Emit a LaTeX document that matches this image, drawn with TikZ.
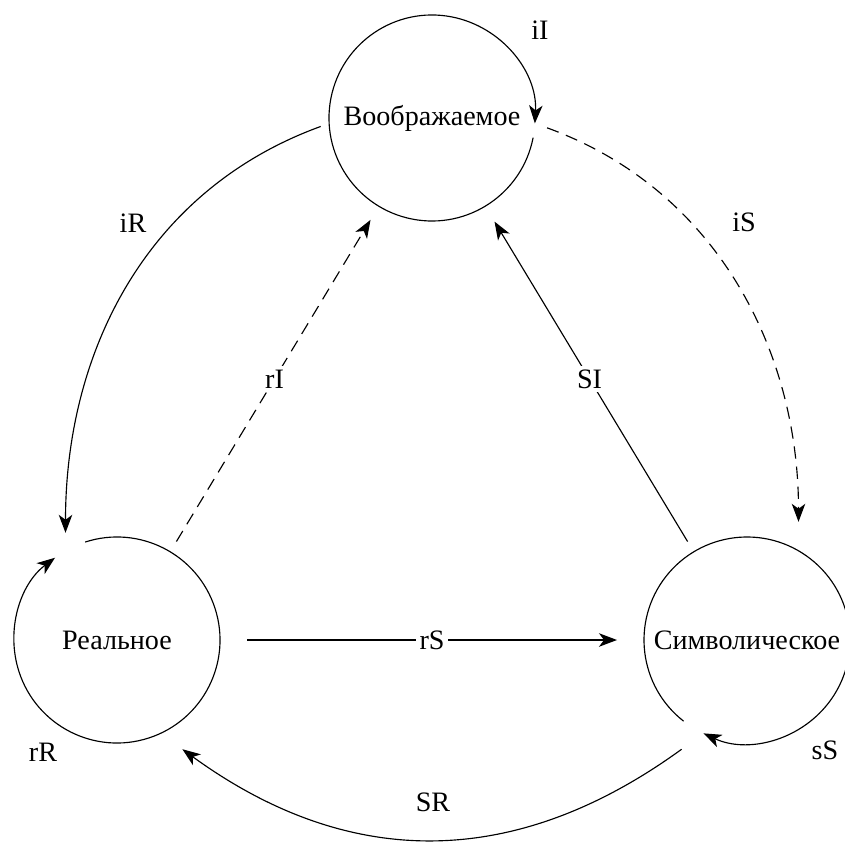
\documentclass[tikz,border=0pt]{standalone}
\usepackage{fontspec}
\setmainfont{Liberation Serif}
\usetikzlibrary{arrows.meta}

\begin{document}
\begin{tikzpicture}[
    every node/.style={font=\fontsize{16}{19}\selectfont},
    ring/.style={circle, minimum size=4.12cm, inner sep=0pt, outer sep=0pt},
    link/.style={line width=0.65pt, -{Stealth[length=3.6mm, width=2.7mm, inset=1mm]}},
    faint/.style={dash pattern=on 7pt off 4.5pt},
    cut/.style={fill=white, inner sep=2pt}
  ]
  \useasboundingbox (0,0) rectangle (16.9,16.88);

  \node[ring] (I) at (8.64,14.52) {Воображаемое};
  \node[ring] (R) at (2.34,4.08) {Реальное};
  \node[ring] (S) at (14.94,4.08) {Символическое};

  \draw[link] (I.-11) arc[start angle=-11, end angle=-363, radius=2.06cm];
  \draw[link] (R.108) arc[start angle=108, end angle=-233, radius=2.06cm];
  \draw[link] (S.232) arc[start angle=232, end angle=-115, radius=2.06cm];
  \node (iIlbl) at (10.8,16.28) {iI};
  \node (rRlbl) at (0.86,1.84) {rR};
  \node (sSlbl) at (16.5,1.88) {sS};

  \draw[link, shorten <=0.18cm, shorten >=0.36cm] (I.183) to[out=200, in=90] (R.120);
  \draw[link, faint, shorten <=0.26cm, shorten >=0.58cm] (I.-3) to[out=-20, in=90] (S.60);
  \draw[link, shorten <=0.54cm, shorten >=0.54cm] (S.245) to[out=216, in=-36, looseness=1.1] (R.-65);
  \node (iRlbl) at (2.66,12.42) {iR};
  \node (iSlbl) at (14.88,12.44) {iS};
  \node (SRlbl) at (8.66,0.84) {SR};

  \draw[link, faint, shorten <=0.24cm, shorten >=0.32cm] (R) -- node[cut] (rIlbl) {rI} (I);
  \draw[link, shorten <=0.24cm, shorten >=0.36cm] (S) -- node[cut] (SIlbl) {SI} (I);
  \draw[link, shorten <=0.54cm, shorten >=0.54cm] (R) -- node[cut] (rSlbl) {rS} (S);
\end{tikzpicture}
\end{document}
